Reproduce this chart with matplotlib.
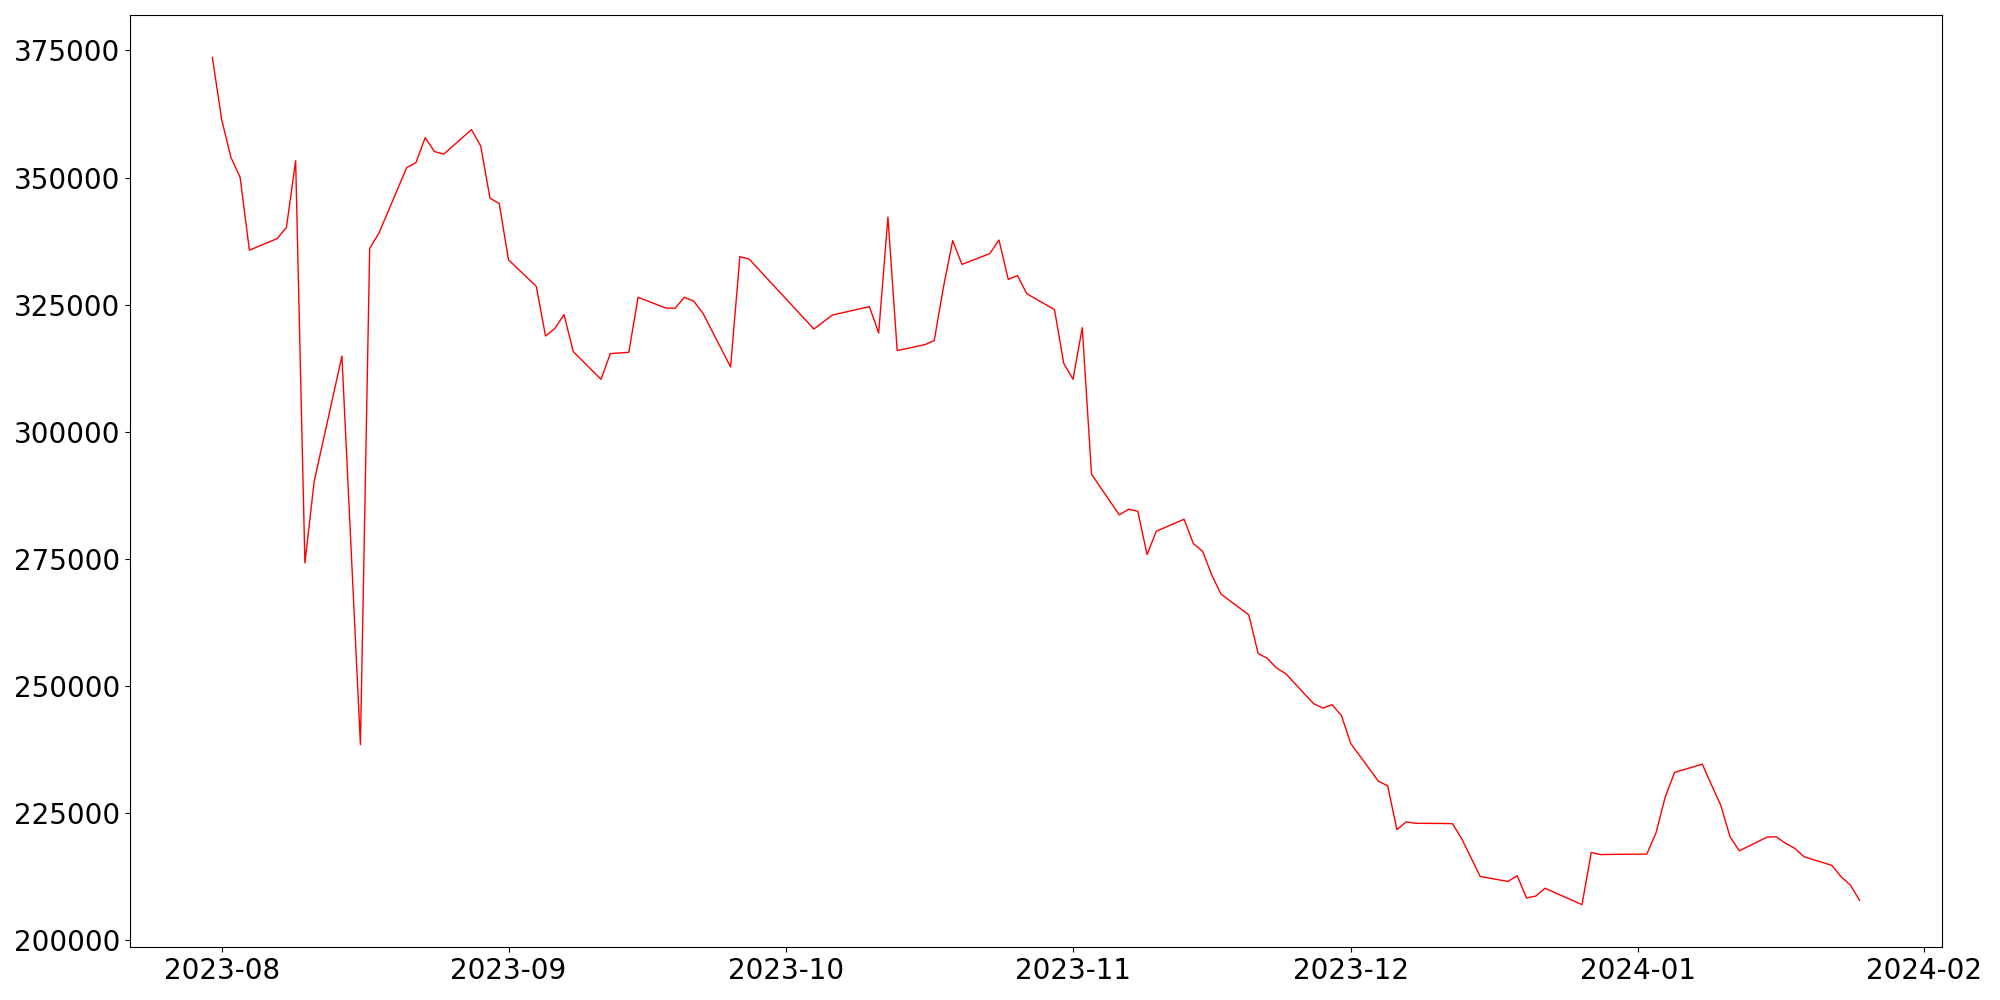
import pandas as pd
import matplotlib
matplotlib.use("Agg")
import matplotlib.pyplot as plt

# --- values ---
dates = [
    "2023-07-31", "2023-08-01", "2023-08-02", "2023-08-03", "2023-08-04",
    "2023-08-07", "2023-08-08", "2023-08-09", "2023-08-10", "2023-08-11",
    "2023-08-14", "2023-08-16", "2023-08-17", "2023-08-18",
    "2023-08-21", "2023-08-22", "2023-08-23", "2023-08-24", "2023-08-25",
    "2023-08-28", "2023-08-29", "2023-08-30", "2023-08-31", "2023-09-01",
    "2023-09-04", "2023-09-05", "2023-09-06", "2023-09-07", "2023-09-08",
    "2023-09-11", "2023-09-12", "2023-09-14", "2023-09-15",
    "2023-09-18", "2023-09-19", "2023-09-20", "2023-09-21", "2023-09-22",
    "2023-09-25", "2023-09-26", "2023-09-27",
    "2023-10-04", "2023-10-05", "2023-10-06",
    "2023-10-10", "2023-10-11", "2023-10-12", "2023-10-13",
    "2023-10-16", "2023-10-17", "2023-10-18", "2023-10-19", "2023-10-20",
    "2023-10-23", "2023-10-24", "2023-10-25", "2023-10-26", "2023-10-27",
    "2023-10-30", "2023-10-31", "2023-11-01", "2023-11-02", "2023-11-03",
    "2023-11-06", "2023-11-07", "2023-11-08", "2023-11-09", "2023-11-10",
    "2023-11-13", "2023-11-14", "2023-11-15", "2023-11-16", "2023-11-17",
    "2023-11-20", "2023-11-21", "2023-11-22", "2023-11-23", "2023-11-24",
    "2023-11-27", "2023-11-28", "2023-11-29", "2023-11-30", "2023-12-01",
    "2023-12-04", "2023-12-05", "2023-12-06", "2023-12-07", "2023-12-08",
    "2023-12-11", "2023-12-12", "2023-12-13", "2023-12-14", "2023-12-15",
    "2023-12-18", "2023-12-19", "2023-12-20", "2023-12-21", "2023-12-22",
    "2023-12-26", "2023-12-27", "2023-12-28", "2023-12-29",
    "2024-01-02", "2024-01-03", "2024-01-04", "2024-01-05",
    "2024-01-08", "2024-01-09", "2024-01-10", "2024-01-11", "2024-01-12",
    "2024-01-15", "2024-01-16", "2024-01-17", "2024-01-18", "2024-01-19",
    "2024-01-22", "2024-01-23", "2024-01-24", "2024-01-25",
]

values = [
    373640, 361470, 354000, 350030, 335720,
    338000, 340170, 353300, 274200, 290220,
    314890, 238470, 336080, 339090,
    351960, 352920, 357860, 355110, 354610,
    359430, 356190, 345950, 344880, 333820,
    328610, 318840, 320300, 323050, 315770,
    310330, 315380, 315640, 326450,
    324340, 324300, 326450, 325720, 323360,
    312750, 334450, 333980,
    320220, 321590, 322970,
    324620, 319430, 342230, 315970,
    317150, 317940, 328470, 337590, 332930,
    335040, 337710, 329990, 330710, 327170,
    324030, 313470, 310330, 320490, 291660,
    283660, 284780, 284380, 275870, 280450,
    282810, 278030, 276520, 271800, 268070,
    264000, 256430, 255450, 253540, 252420,
    246530, 245680, 246330, 244210, 238740,
    231290, 230390, 221760, 223290, 223020,
    222980, 222940, 219990, 216280, 212560,
    211580, 212700, 208330, 208690, 210240,
    207020, 217280, 216860, 216900,
    216960, 221150, 228230, 233020,
    234650, 230530, 226540, 220360, 217610,
    220300, 220360, 219070, 218080, 216430,
    214740, 212500, 210870, 207860,
]

x = pd.to_datetime(dates)

fig, ax = plt.subplots(figsize=(20, 10), dpi=100)
ax.plot(x, values, color="red", linewidth=1)

ax.tick_params(axis="both", labelsize=20)
fig.subplots_adjust(left=0.065, right=0.971, top=0.985, bottom=0.053)

fig.savefig("out.png")
